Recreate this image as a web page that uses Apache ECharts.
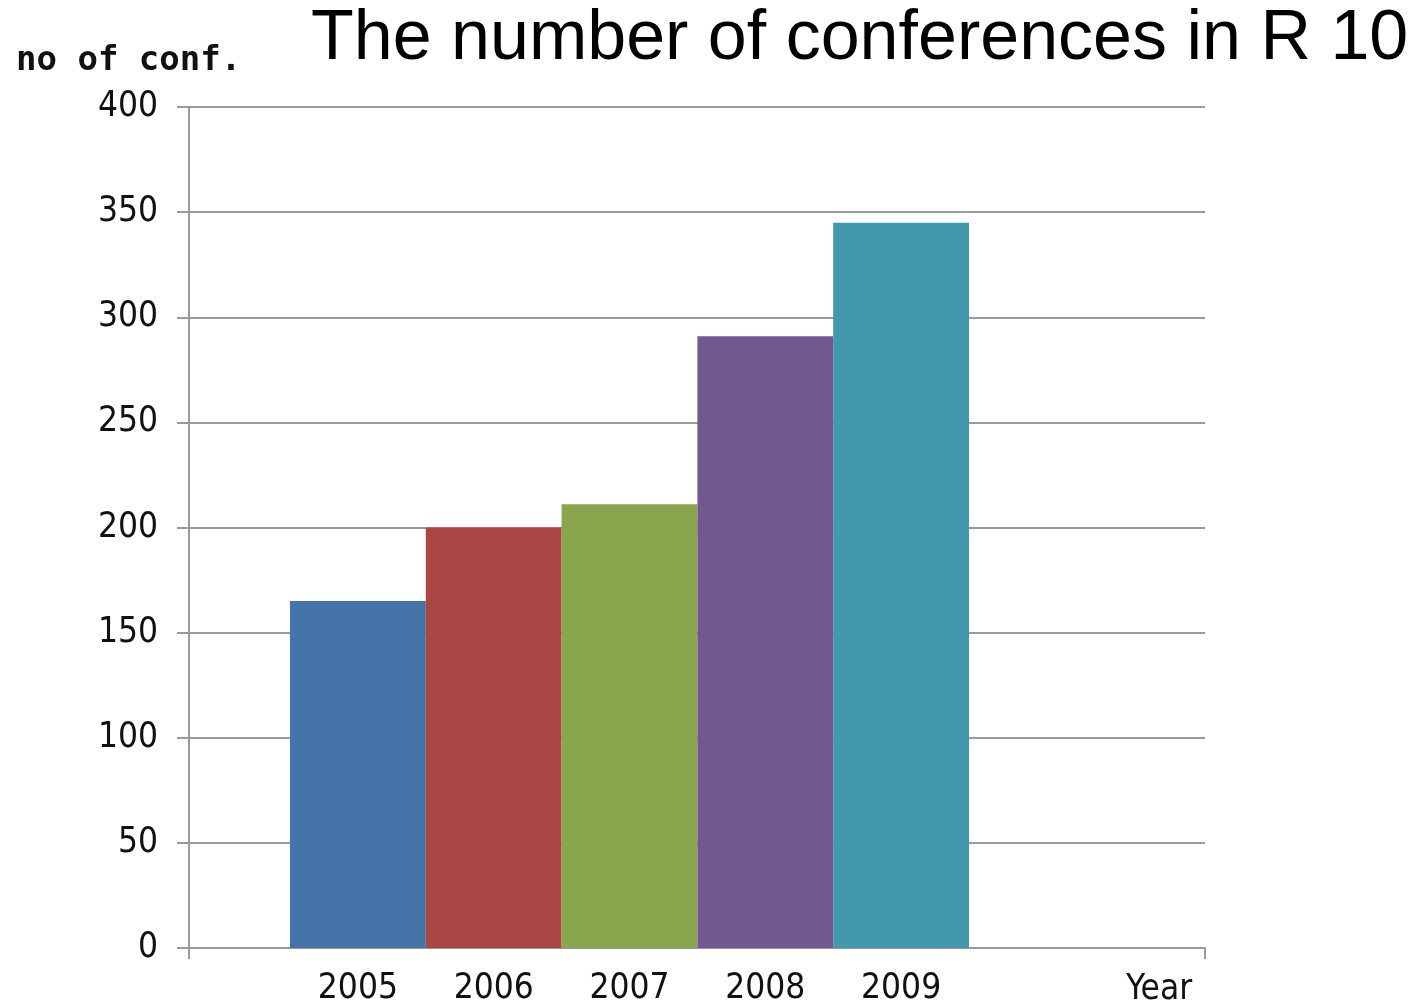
<!DOCTYPE html>
<html>
<head>
<meta charset="utf-8">
<script src="https://cdn.jsdelivr.net/npm/echarts@6/dist/echarts.min.js"></script>
<style>
html,body{margin:0;padding:0;background:#fff;}
#chart{width:1414px;height:1007px;}
</style>
</head>
<body>
<div id="chart"></div>
<script>
const years = ['2005', '2006', '2007', '2008', '2009'];
const conferences = [165, 200, 211, 291, 345];
const barColors = ['#4572A7', '#AA4643', '#89A54E', '#71588F', '#4198AF'];
const yTicks = { min: 0, max: 400, interval: 50 };
const titleText = 'The number of conferences in R 10';
const yName = 'no of conf.';
const xName = 'Year';

const narrow = "'Liberation Sans Narrow', 'Arial Narrow', 'DejaVu Sans Condensed', sans-serif";
const gray = '#9a9a9a';

const chart = echarts.init(document.getElementById('chart'));
chart.setOption({
  backgroundColor: '#fff',
  animation: false,
  title: [
    { text: titleText, left: 306, top: 0,
      textStyle: { fontFamily: "'Liberation Sans', Arial, sans-serif", fontSize: 70, fontWeight: 'normal', color: '#000' } },
    { text: yName, left: 11, top: 39,
      textStyle: { fontFamily: "'DejaVu Sans Mono', 'Liberation Mono', monospace", fontSize: 34, fontWeight: 'bold', color: '#111' } },
    { text: xName, left: 1121, top: 967,
      textStyle: { fontFamily: narrow, fontSize: 35, fontWeight: 'normal', color: '#111' } }
  ],
  grid: [
    { left: 189, right: 209, top: 107, bottom: 59, containLabel: false },
    { left: 290, right: 445, top: 107, bottom: 59, containLabel: false }
  ],
  xAxis: [
    { type: 'category', gridIndex: 0, data: [''],
      axisLine: { show: true, lineStyle: { color: gray, width: 2 } },
      axisTick: { show: true, length: 11, lineStyle: { color: gray, width: 2 } },
      axisLabel: { show: false }, splitLine: { show: false } },
    { type: 'category', gridIndex: 1, data: years,
      axisLine: { show: false }, axisTick: { show: false },
      axisLabel: { show: true, margin: 23, fontFamily: narrow, fontSize: 35, color: '#111' } }
  ],
  yAxis: [
    { type: 'value', gridIndex: 0, min: yTicks.min, max: yTicks.max, interval: yTicks.interval,
      axisLine: { show: true, lineStyle: { color: gray, width: 2 } },
      axisTick: { show: true, length: 12, lineStyle: { color: gray, width: 2 } },
      axisLabel: { margin: 31, fontFamily: narrow, fontSize: 35, color: '#111', padding: [6, 0, 0, 0] },
      splitLine: { show: true, lineStyle: { color: gray, width: 2 } } },
    { type: 'value', gridIndex: 1, min: yTicks.min, max: yTicks.max, interval: yTicks.interval,
      show: false, splitLine: { show: false } }
  ],
  series: [
    { type: 'bar', xAxisIndex: 1, yAxisIndex: 1, barCategoryGap: '0%',
      data: conferences.map((v, i) => ({ value: v, itemStyle: { color: barColors[i] } })) }
  ]
});
</script>
</body>
</html>
